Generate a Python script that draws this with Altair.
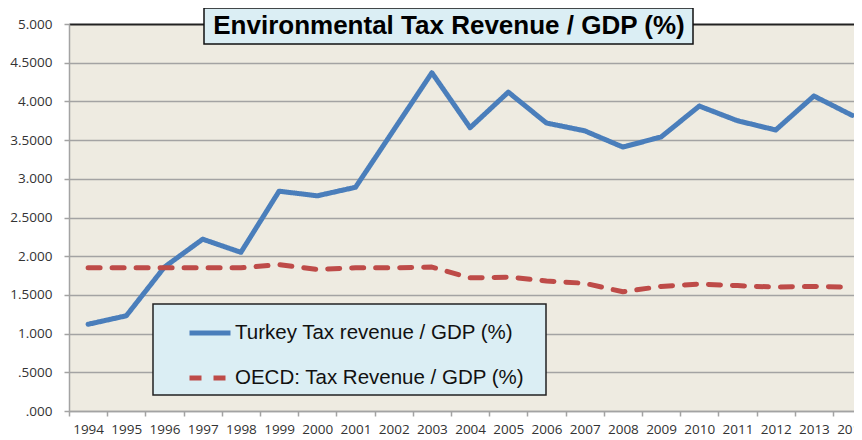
import json
import altair as alt
import pandas as pd

years = list(range(1994, 2015))
turkey = [1.12, 1.23, 1.86, 2.22, 2.05, 2.84, 2.78, 2.89, 3.63, 4.37, 3.66,
          4.12, 3.72, 3.62, 3.41, 3.54, 3.94, 3.75, 3.63, 4.07, 3.82]
oecd = [1.85, 1.85, 1.85, 1.85, 1.85, 1.89, 1.83, 1.85, 1.85, 1.86, 1.72,
        1.73, 1.68, 1.65, 1.54, 1.61, 1.64, 1.62, 1.60, 1.61, 1.60]
series_names = ["Turkey Tax revenue / GDP (%)", "OECD: Tax Revenue / GDP (%)"]
y_ticks = [0, 0.5, 1, 1.5, 2, 2.5, 3, 3.5, 4, 4.5, 5]
y_tick_labels = [".000", ".5000", "1.000", "1.5000", "2.000", "2.5000",
                 "3.000", "3.5000", "4.000", "4.5000", "5.000"]
x_tick_positions = [y - 0.5 for y in years]
title_text = "Environmental Tax Revenue / GDP (%)"

rows = []
for i, yr in enumerate(years):
    rows.append({"year": yr, "value": turkey[i], "series": series_names[0]})
    rows.append({"year": yr, "value": oecd[i], "series": series_names[1]})
df = pd.DataFrame(rows)

axis_font = "Open Sans"
label_color = "#333333"
gray = "#a3a3a3"

legend = alt.Legend(
    orient="none", legendX=84, legendY=280,
    fillColor="#dbeef4", strokeColor="#222222",
    padding=6, symbolType="stroke", symbolSize=1681, symbolStrokeWidth=5,
    symbolOffset=28, labelOffset=2, labelFontSize=20.5, labelFont="Liberation Sans",
    labelColor="#111111", rowPadding=11, title=None, labelLimit=0,
    labelExpr="datum.label + '\u2800'",
)

lines = alt.Chart(df).mark_line(
    strokeWidth=5, strokeCap="round", strokeJoin="round", clip=True
).encode(
    x=alt.X(
        "year:Q",
        scale=alt.Scale(domain=[1993.5, 2014.05], nice=False, zero=False),
        axis=alt.Axis(
            values=x_tick_positions,
            labelExpr="format(datum.value + 0.5, 'd')",
            labelOffset=19.1, tickSize=5, tickColor=gray, tickWidth=1.5,
            domainColor=gray, domainWidth=1.5, grid=False,
            labelOverlap=False, labelFlush=False, labelBound=False,
            title=None, labelPadding=6, labelFont=axis_font, labelFontSize=13.5,
            labelColor=label_color,
        ),
    ),
    y=alt.Y(
        "value:Q",
        scale=alt.Scale(domain=[0, 5], nice=False),
        axis=alt.Axis(
            values=y_ticks,
            labelExpr=json.dumps(y_tick_labels) + "[round(datum.value * 2)]",
            gridColor={"condition": {"test": "datum.value === 5", "value": "#222222"}, "value": gray},
            gridWidth={"condition": {"test": "datum.value === 5", "value": 2}, "value": 1.5},
            tickSize=5, tickColor=gray, tickWidth=1.5,
            domainColor=gray, domainWidth=1.5,
            title=None, labelPadding=12, labelFont=axis_font, labelFontSize=13.5,
            labelColor=label_color,
        ),
    ),
    color=alt.Color("series:N", scale=alt.Scale(domain=series_names, range=["#4a7ebb", "#be4b48"]),
                    legend=legend),
    strokeDash=alt.StrokeDash("series:N", scale=alt.Scale(domain=series_names, range=[[1, 0], [12, 12]]),
                              legend=legend),
)

title_df = pd.DataFrame({"t": [title_text]})
title_box = alt.Chart(title_df).mark_rect(
    fill="#dbeef4", stroke="#111111", strokeWidth=1.5
).encode(x=alt.value(135), x2=alt.value(624), y=alt.value(-16), y2=alt.value(20))
title_label = alt.Chart(title_df).mark_text(
    font="Liberation Sans", fontSize=26, fontWeight="bold", color="#000000",
    align="center", baseline="middle"
).encode(x=alt.value(380), y=alt.value(2), text="t:N")

chart = alt.layer(lines, title_box, title_label).properties(
    width=785, height=387,
    autosize=alt.AutoSizeParams(type="none"),
    padding={"left": 61, "top": 16, "right": 0, "bottom": 29},
    background="white",
).configure_view(fill="#eeebe1", stroke=None).configure_legend(strokeWidth=1.5)

chart.save("out.html", embed_options={"renderer": "svg", "actions": False})
